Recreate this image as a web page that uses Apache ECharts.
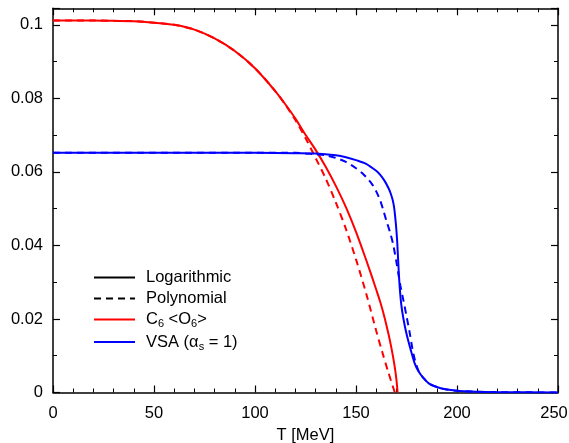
<!DOCTYPE html>
<html>
<head>
<meta charset="utf-8">
<script src="https://cdn.jsdelivr.net/npm/echarts@6/dist/echarts.min.js"></script>
<style>
html,body{margin:0;padding:0;background:#fff;}
#chart{width:569px;height:443px;}
</style>
</head>
<body>
<div id="chart"></div>
<script>
// Temperature grids and values
var redLogT = [0,20,30,40,50,60,70,80,90,100,110,115,120,125,130,135,140,145,150,155,158,160,162,164,166,167.5,169,170,170.6];
var redLogV = [0.1012,0.1012,0.1011,0.1010,0.1006,0.1000,0.0987,0.0963,0.0929,0.0882,0.0820,0.0784,0.0745,0.0701,0.0660,0.0614,0.0562,0.0504,0.0437,0.0361,0.0313,0.0280,0.0246,0.0207,0.0161,0.0122,0.0076,0.0036,0.0];

var redPolyT = [0,20,30,40,50,60,70,80,90,100,110,115,120,125,130,135,140,145,150,155,160,163,166,169.2];
var redPolyV = [0.1012,0.1012,0.1011,0.1010,0.1006,0.1000,0.0987,0.0963,0.0929,0.0882,0.0820,0.0783,0.0741,0.0692,0.0638,0.0582,0.0517,0.0445,0.0362,0.0270,0.0168,0.0110,0.0055,0.0];

var blueLogT = [0,50,100,120,130,140,145,150,155,160,162,164,166,167,168,168.5,169,169.8,170.4,171,171.6,172.4,173.5,175,177,179,181,183.3,186,190,195,200,210,220,250];
var blueLogV = [0.0652,0.0652,0.0652,0.0651,0.0650,0.0645,0.0640,0.0632,0.0622,0.0603,0.0592,0.0577,0.0557,0.0544,0.0527,0.0515,0.0498,0.0455,0.0410,0.0345,0.0290,0.0240,0.0200,0.0160,0.0118,0.0080,0.0057,0.0040,0.0025,0.0015,0.0008,0.0005,0.0002,0.0001,0.0];

var bluePolyT = [0,50,100,120,125,130,135,140,145,150,153,156,158,160,162,163.5,165,167,168.5,170,171,172,173.5,175,176.5,178,179.2,181,183,186,190,195,200,210,220,250];
var bluePolyV = [0.0652,0.0652,0.0652,0.0652,0.0650,0.0648,0.0645,0.0638,0.0627,0.0610,0.0597,0.0580,0.0566,0.0547,0.0522,0.0496,0.0468,0.0433,0.0400,0.0355,0.0322,0.0290,0.0250,0.0208,0.0165,0.0117,0.0088,0.0058,0.0042,0.0025,0.0015,0.0008,0.0005,0.0002,0.0001,0.0];

var xTicks = {min:0, max:250, interval:50};
var yTicks = {min:0, max:0.1045, interval:0.02};
var legendNames = ['Logarithmic','Polynomial','C6','VSA'];

function pairs(t, v){ return t.map(function(x,i){ return [x, v[i]]; }); }

var FONT = 'Liberation Sans';
var chart = echarts.init(document.getElementById('chart'));

var axisLineStyle = {color:'#000', width:1.5};
function xAx(pos, showLabel){
  return {
    type:'value', position:pos, min:xTicks.min, max:xTicks.max, interval:xTicks.interval,
    axisLine:{show:true, onZero:false, lineStyle:axisLineStyle},
    axisTick:{show:true, inside:true, length:7, lineStyle:{color:'#000', width:1.2}},
    minorTick:{show:true, splitNumber:5, length:4, lineStyle:{color:'#000', width:1}},
    splitLine:{show:false}, minorSplitLine:{show:false},
    axisLabel:{show:showLabel, color:'#000', fontSize:16.5, fontFamily:FONT, margin:12,
      formatter:function(v){ return v === xTicks.max ? '{m|' + v + '}' : String(v); },
      rich:{m:{fontSize:16.5, fontFamily:FONT, color:'#000', padding:[0,8,0,0]}}},
    name: showLabel ? 'T [MeV]' : '', nameLocation:'middle', nameGap:34,
    nameTextStyle:{color:'#000', fontSize:16.5, fontFamily:FONT}
  };
}
function yAx(pos, showLabel){
  return {
    type:'value', position:pos, min:yTicks.min, max:yTicks.max, interval:yTicks.interval,
    axisLine:{show:true, onZero:false, lineStyle:axisLineStyle},
    axisTick:{show:true, inside:true, length:7, lineStyle:{color:'#000', width:1.2}},
    minorTick:{show:true, splitNumber:2, length:4, lineStyle:{color:'#000', width:1}},
    splitLine:{show:false}, minorSplitLine:{show:false},
    axisLabel:{show:showLabel, showMaxLabel:false, color:'#000', fontSize:16.5, fontFamily:FONT, margin:10,
      formatter:function(v){ return String(parseFloat(v.toFixed(3))); }}
  };
}

function line(name, data, color, dashed){
  return {
    name:name, type:'line', data:data, symbol:'none', smooth:0.3, color:color,
    xAxisIndex:0, yAxisIndex:0, animation:false,
    lineStyle:{color:color, width:2, type: dashed ? [7,5] : 'solid'}
  };
}

var option = {
  animation:false,
  backgroundColor:'#fff',
  grid:{left:53, right:11, top:8.3, bottom:50.5, containLabel:false, outerBoundsMode:'none'},
  xAxis:[xAx('bottom', true), xAx('top', false)],
  yAxis:[yAx('left', true), yAx('right', false)],
  legend:{
    data:legendNames, orient:'vertical', left:93, top:269, padding:0,
    itemWidth:41, itemHeight:14, itemGap:4, selectedMode:false,
    itemStyle:{opacity:0},
    formatter:function(n){
      if(n==='C6') return '{n|C}{s|6}{n| <O}{s|6}{n|>}';
      if(n==='VSA') return '{n|VSA (\u03B1}{s|s}{n| = 1)}';
      return '{n|'+n+'}';
    },
    textStyle:{fontFamily:FONT, color:'#000', fontSize:16.5, padding:[0,0,0,6],
      rich:{
        n:{fontSize:16.5, fontFamily:FONT, color:'#000', lineHeight:20, verticalAlign:'middle'},
        s:{fontSize:11, fontFamily:FONT, color:'#000', lineHeight:12, verticalAlign:'bottom'}
      }}
  },
  series:[
    line('Logarithmic', [], '#000', false),
    line('Polynomial', [], '#000', true),
    line('C6', pairs(redLogT, redLogV), '#ff0000', false),
    line('C6 poly', pairs(redPolyT, redPolyV), '#ff0000', true),
    line('VSA', pairs(blueLogT, blueLogV), '#0000ff', false),
    line('VSA poly', pairs(bluePolyT, bluePolyV), '#0000ff', true)
  ]
};
chart.setOption(option);
</script>
</body>
</html>
